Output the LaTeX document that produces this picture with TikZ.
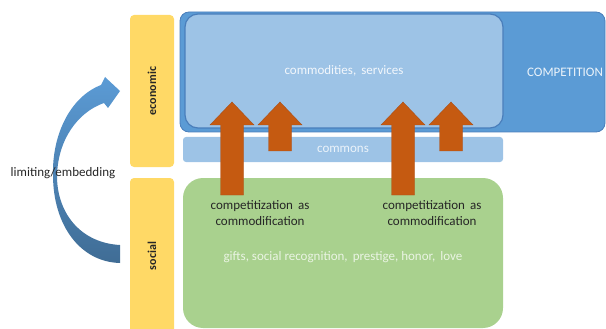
\documentclass[tikz,border=0pt]{standalone}
\usepackage{fontspec}
\setmainfont{Carlito}
\usepackage{xcolor}
\usetikzlibrary{positioning}
\definecolor{barYellow}{HTML}{FFD966}
\definecolor{compBlue}{HTML}{5B9BD5}
\definecolor{compEdge}{HTML}{4A7EBB}
\definecolor{lightBlue}{HTML}{9DC3E6}
\definecolor{socialGreen}{HTML}{A9D18E}
\definecolor{pushOrange}{HTML}{C55A11}
\definecolor{pushEdge}{HTML}{A9501A}
\definecolor{labelGray}{HTML}{262626}
\tikzset{
  field/.style={inner sep=0pt, outer sep=0pt},
  sidebar/.style={field, rounded corners=4pt, fill=barYellow, rotate=90, minimum height=44pt, font=\fontsize{12}{14}\selectfont\bfseries, text=labelGray},
  paletext/.style={font=\fontsize{13}{16}\selectfont, align=center},
  darktext/.style={paletext, text=labelGray},
  push/.style={fill=pushOrange, draw=pushEdge, line width=0.4pt}
}

\begin{document}
\begin{tikzpicture}[x=1pt, y=-1pt]
  \useasboundingbox (0,0) rectangle (606,329);

  % layers
  \node[sidebar, minimum width=152pt] (econ) at (152,91) {economic};
  \node[sidebar, minimum width=156pt] (social) at (152,256) {social};

  \node[field, rounded corners=9pt, fill=compBlue, draw=compEdge, line width=0.8pt,
        minimum width=425pt, minimum height=120pt] (comp) at (392.5,72) {};
  \node[field, rounded corners=13pt, fill=lightBlue, draw=compEdge, line width=1.2pt,
        minimum width=318pt, minimum height=114pt] (market) at (344,71) {};
  \node[field, rounded corners=3pt, fill=lightBlue,
        minimum width=320pt, minimum height=25pt] (commons) at (343,149.5) {};
  \node[field, rounded corners=20pt, fill=socialGreen,
        minimum width=320pt, minimum height=150pt] (gifts) at (343,253) {};

  % labels
  \node[paletext, text=white!92!compBlue] at (market) {commodities,\, services};
  \node[paletext, text=white!88!compBlue] at (565,72) {COMPETITION};
  \node[paletext, text=white!80!lightBlue] at (commons) {commons};
  \node[paletext, text=white!75!socialGreen] at (343,257) {gifts, social recognition,\, prestige, honor,\, love};

  % competitization arrows
  \foreach \tx/\by in {232/195, 280/151, 403/195, 451/151}
    \filldraw[push] ({\tx-11.5},\by) -- ({\tx-11.5},125) -- ({\tx-22},125) -- (\tx,102)
      -- ({\tx+22},125) -- ({\tx+11.5},125) -- ({\tx+11.5},\by) -- cycle;

  \node[darktext] (compL) at (260,213) {competitization\, as\\commodification};
  \node[darktext] (compR) at (432,213) {competitization\, as\\commodification};

  % limiting / embedding
  \shade[top color=compBlue, bottom color=compBlue!70!black]
    (120,263) -- (120,245) .. controls (82,243) and (58,215) .. (57,178)
    .. controls (57,140) and (78,112) .. (104,103) -- (108,108) -- (120,91)
    -- (105,77) -- (101,85) .. controls (70,97) and (52,135) .. (53,175)
    .. controls (53,225) and (80,262) .. (120,263) -- cycle;
  \node[darktext] (limit) at (63,173) {limiting/embedding};
\end{tikzpicture}
\end{document}
